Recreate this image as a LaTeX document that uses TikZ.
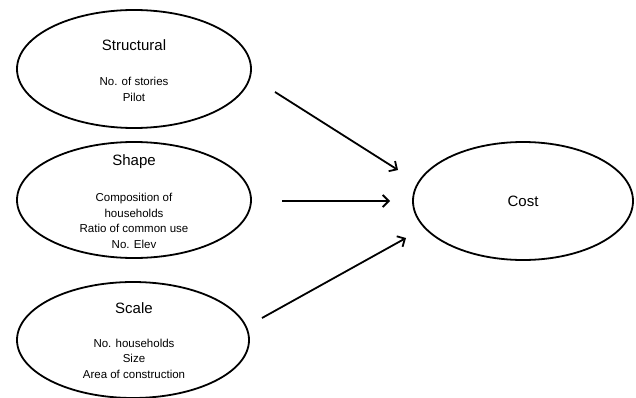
\documentclass[tikz,border=0pt]{standalone}
\usepackage{fontspec}
\setmainfont{Liberation Sans}
\usetikzlibrary{shapes.geometric,arrows.meta}
\begin{document}
\begin{tikzpicture}[x=1pt,y=1pt,
  oval/.style={draw,ellipse,line width=1.8pt,inner sep=0pt},
  ttl/.style={font=\fontsize{15}{18}\selectfont,inner sep=0pt},
  body/.style={align=center,font=\fontsize{11.5}{15.5}\selectfont,inner sep=0pt},
  arr/.style={line width=1.8pt,-{Straight Barb[length=6pt,width=12pt,line width=1.8pt]}}]
\useasboundingbox (0,0) rectangle (636,397);
\fill[white] (0,0) rectangle (636,397);
% ellipses
\node[oval,minimum width=234pt,minimum height=118pt] (s1) at (134,328) {};
\node[oval,minimum width=234pt,minimum height=116pt] (s2) at (134,197) {};
\node[oval,minimum width=232pt,minimum height=116pt] (s3) at (133,57) {};
\node[oval,minimum width=220pt,minimum height=118pt] (cost) at (523,196) {};
% texts
\node[ttl] (t1) at (134,352) {Structural};
\node[body] (b1) at (134,307.5) {No. of stories\\Pilot};
\node[ttl] (t2) at (134,235) {Shape};
\node[body] (b2) at (134,176) {Composition of\\households\\Ratio of common use\\No. Elev};
\node[ttl] (t3) at (134,89) {Scale};
\node[body] (b3) at (134,38.5) {No. households\\Size\\Area of construction};
\node[ttl] (tc) at (523,196) {Cost};
% arrows
\coordinate (a1s) at (275,305);
\coordinate (a1e) at (398,227);
\coordinate (a2s) at (282,196);
\coordinate (a2e) at (390,196);
\coordinate (a3s) at (262,79);
\coordinate (a3e) at (406,159);
\draw[arr] (a1s) -- (a1e);
\draw[arr] (a2s) -- (a2e);
\draw[arr] (a3s) -- (a3e);
\end{tikzpicture}
\end{document}
